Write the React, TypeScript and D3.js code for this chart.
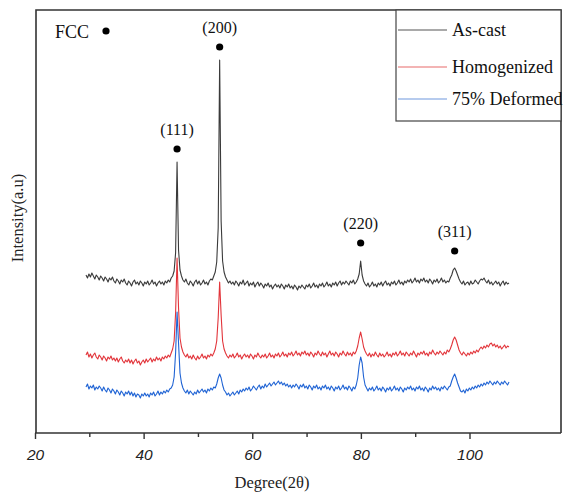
import React from "react";
import * as d3 from "d3";

// 2θ sampling grid of the scans (28° to 100°, 0.25° step)
const twoTheta: number[] = d3.range(0, 289).map((i) => 28 + i * 0.25);

// intensities (a.u., offset stacked)
const asCast = [
  158,155,159,156,160,157,154,158,156,153,
  157,155,152,156,154,151,155,153,156,152,
  150,154,152,149,153,151,154,150,148,152,
  150,147,151,153,149,151,148,152,150,147,
  151,149,152,148,150,153,149,151,147,150,
  152,149,151,148,152,150,153,151,155,157,
  162,180,271,183,163,157,153,151,154,150,
  148,152,150,147,151,153,149,152,148,150,
  153,149,151,148,152,154,153,157,161,171,
  205,373,212,172,161,156,153,150,152,149,
  151,148,152,150,147,151,149,153,148,150,
  152,147,150,148,151,146,149,151,147,150,
  148,145,149,147,150,146,148,144,147,149,
  146,148,145,149,147,144,148,146,149,145,
  147,144,148,146,143,147,145,148,146,144,
  148,146,149,145,147,150,146,148,145,149,
  147,150,146,148,151,147,149,146,150,148,
  151,147,150,152,148,151,149,152,150,148,
  152,150,153,149,151,154,159,172,158,152,
  149,147,150,146,148,151,147,149,146,150,
  148,151,147,150,152,148,150,147,151,149,
  152,148,150,153,149,151,148,152,150,153,
  151,154,150,152,155,151,153,150,154,152,
  155,151,153,150,154,152,149,153,151,154,
  150,152,155,151,153,150,152,151,155,158,
  163,165,162,158,154,151,149,152,148,150,
  151,148,152,149,150,153,151,149,152,154,
  153,155,152,150,153,149,151,148,150,152,
  149,151,147,150,152,148,151,149,150,
];

const homogenized = [
  78,81,76,79,75,78,80,76,74,78,
  76,73,77,75,72,76,74,77,73,75,
  72,75,71,74,76,72,70,73,71,74,
  70,73,69,72,74,70,72,68,71,73,
  70,74,71,73,75,71,74,72,76,73,
  75,72,76,74,77,75,78,76,80,84,
  92,120,175,125,95,86,81,78,76,79,
  75,77,74,78,75,73,77,74,76,79,
  75,77,74,78,76,79,77,80,84,92,
  115,151,118,92,84,80,77,75,78,76,
  79,75,77,80,76,78,74,77,79,76,
  78,75,79,77,74,78,76,80,77,75,
  78,76,79,75,77,80,76,78,75,79,
  77,80,76,78,81,77,79,76,80,78,
  81,77,79,82,78,80,77,81,79,82,
  78,80,77,81,79,76,80,78,82,79,
  77,81,78,80,76,79,82,78,80,77,
  81,79,76,80,78,82,79,77,81,78,
  80,77,81,79,82,87,95,101,94,86,
  82,79,77,80,76,79,77,81,78,76,
  80,77,79,76,78,81,77,79,76,80,
  78,81,77,79,82,78,80,77,81,79,
  77,80,78,82,79,76,80,78,81,79,
  82,78,80,77,81,79,83,80,78,81,
  79,82,80,78,81,79,83,81,84,88,
  93,96,93,88,83,80,78,81,79,77,
  80,78,81,79,82,80,83,81,84,86,
  84,87,85,88,86,89,90,87,89,86,
  88,85,87,84,86,88,85,87,86,
];

const deformed75 = [
  46,49,44,47,45,48,43,46,44,47,
  45,42,46,43,41,45,43,40,44,42,
  39,43,41,38,42,40,37,41,39,42,
  38,41,37,40,36,39,38,35,39,37,
  40,37,39,36,40,38,41,37,39,42,
  38,41,39,42,40,43,41,44,45,48,
  56,80,121,90,60,50,45,42,40,43,
  39,42,40,38,41,39,43,40,42,44,
  41,43,40,44,42,45,43,46,45,49,
  55,59,55,48,43,41,38,40,37,39,
  41,38,40,42,39,43,41,44,42,45,
  43,46,42,44,47,45,43,46,48,44,
  47,45,49,46,48,50,47,49,51,48,
  50,52,49,51,48,50,47,49,46,48,
  45,48,46,49,47,44,48,46,49,45,
  47,44,48,46,43,47,45,48,44,46,
  43,47,45,48,44,46,43,47,45,42,
  46,44,47,43,45,48,44,46,43,47,
  45,42,46,44,48,55,68,76,70,56,
  48,45,42,45,43,46,42,44,47,43,
  45,42,46,44,41,45,43,46,42,44,
  47,43,45,42,46,44,41,45,43,46,
  44,47,43,45,42,46,44,47,43,45,
  42,46,44,41,45,43,47,44,46,43,
  45,42,46,44,47,45,43,46,47,52,
  56,59,55,50,46,42,41,43,40,44,
  42,45,43,46,44,47,45,48,46,49,
  47,50,48,51,49,52,50,48,51,49,
  52,50,48,51,49,52,50,48,51,
];

const seriesNames = ["As-cast", "Homogenized", "75% Deformed"];
const seriesColors = ["#3a3a3a", "#e2343a", "#1f63d4"];
const legendColors = ["#555555", "#e86a6a", "#6e97de"];

// FCC reflections (2θ) and their labels
const peakLabels = ["(111)", "(200)", "(220)", "(311)"];
const peakPositions = [43.5, 50.75, 74.75, 90.75];
const peakMarkerLevels = [284, 386, 190, 182];

const majorTicks = [20, 40, 60, 80, 100];
const minorTicks = [30, 50, 70, 90];

const W = 565;
const H = 493;
const frame = { left: 36, top: 10, right: 561, bottom: 433 };

export default function App() {
  // axis as printed
  const xAxis = d3.scaleLinear().domain([20, 100]).range([35.5, 470]);
  // scans as drawn (the printed axis is offset from the data)
  const xData = d3.scaleLinear().domain([28, 100]).range([86, 509]);
  const y = d3.scaleLinear().domain([0, 423]).range([frame.bottom, frame.top]);

  const line = d3
    .line<number>()
    .x((_d, i) => xData(twoTheta[i]))
    .y((d) => y(d));

  const serif = "'Liberation Serif', 'Times New Roman', serif";
  const sans = "'Liberation Sans', Arial, sans-serif";
  const all = [asCast, homogenized, deformed75];
  const legendRows = [30, 67, 99];

  return (
    <svg
      width={W}
      height={H}
      style={{ position: "absolute", left: 0, top: 0, background: "#fff" }}
    >
      <rect width={W} height={H} fill="#fff" />

      {/* scans */}
      {all.map((s, k) => (
        <path
          key={k}
          d={line(s) || ""}
          fill="none"
          stroke={seriesColors[k]}
          strokeWidth={1.1}
          strokeLinejoin="round"
        />
      ))}

      {/* frame */}
      <path
        d={`M${frame.left},${frame.bottom}V${frame.top}H${frame.right}V${frame.bottom}`}
        fill="none"
        stroke="#333"
        strokeWidth={1.6}
      />
      <line
        x1={frame.left - 1}
        x2={frame.right}
        y1={frame.bottom}
        y2={frame.bottom}
        stroke="#333"
        strokeWidth={1.6}
      />

      {/* x ticks */}
      {majorTicks.map((t) => (
        <g key={t} transform={`translate(${xAxis(t)},${frame.bottom})`}>
          <line y2={6} stroke="#333" strokeWidth={1.4} />
          <text
            y={27}
            textAnchor="middle"
            fontFamily={sans}
            fontStyle="italic"
            fontSize={15.5}
            fill="#222"
          >
            {t}
          </text>
        </g>
      ))}
      {minorTicks.map((t) => (
        <line
          key={t}
          x1={xAxis(t)}
          x2={xAxis(t)}
          y1={frame.bottom}
          y2={frame.bottom + 4}
          stroke="#333"
          strokeWidth={1.4}
        />
      ))}

      <text
        x={272}
        y={488}
        textAnchor="middle"
        fontFamily={serif}
        fontSize={16.5}
        fill="#222"
      >
        Degree(2θ)
      </text>
      <text
        transform="translate(23,218) rotate(-90)"
        textAnchor="middle"
        fontFamily={serif}
        fontSize={16.5}
        fill="#222"
      >
        Intensity(a.u)
      </text>

      {/* FCC marker */}
      <text x={55} y={38} fontFamily={serif} fontSize={18} fill="#111">
        FCC
      </text>
      <circle cx={106} cy={31} r={3.6} fill="#000" />

      {/* peak markers */}
      {peakLabels.map((lab, k) => {
        const cx = xData(peakPositions[k]);
        const cy = y(peakMarkerLevels[k]);
        return (
          <g key={lab}>
            <circle cx={cx} cy={cy} r={3.6} fill="#000" />
            <text
              x={cx}
              y={cy - 14}
              textAnchor="middle"
              fontFamily={serif}
              fontSize={16}
              fill="#111"
            >
              {lab}
            </text>
          </g>
        );
      })}

      {/* legend */}
      <rect
        x={396}
        y={frame.top}
        width={frame.right - 396}
        height={111}
        fill="#fff"
        stroke="#444"
        strokeWidth={1.2}
      />
      {seriesNames.map((n, k) => {
        const ly = legendRows[k];
        return (
          <g key={n}>
            <line x1={398} x2={447} y1={ly} y2={ly} stroke={legendColors[k]} strokeWidth={1.2} />
            <text x={452} y={ly + 6} fontFamily={serif} fontSize={18} fill="#111">
              {n}
            </text>
          </g>
        );
      })}
    </svg>
  );
}
